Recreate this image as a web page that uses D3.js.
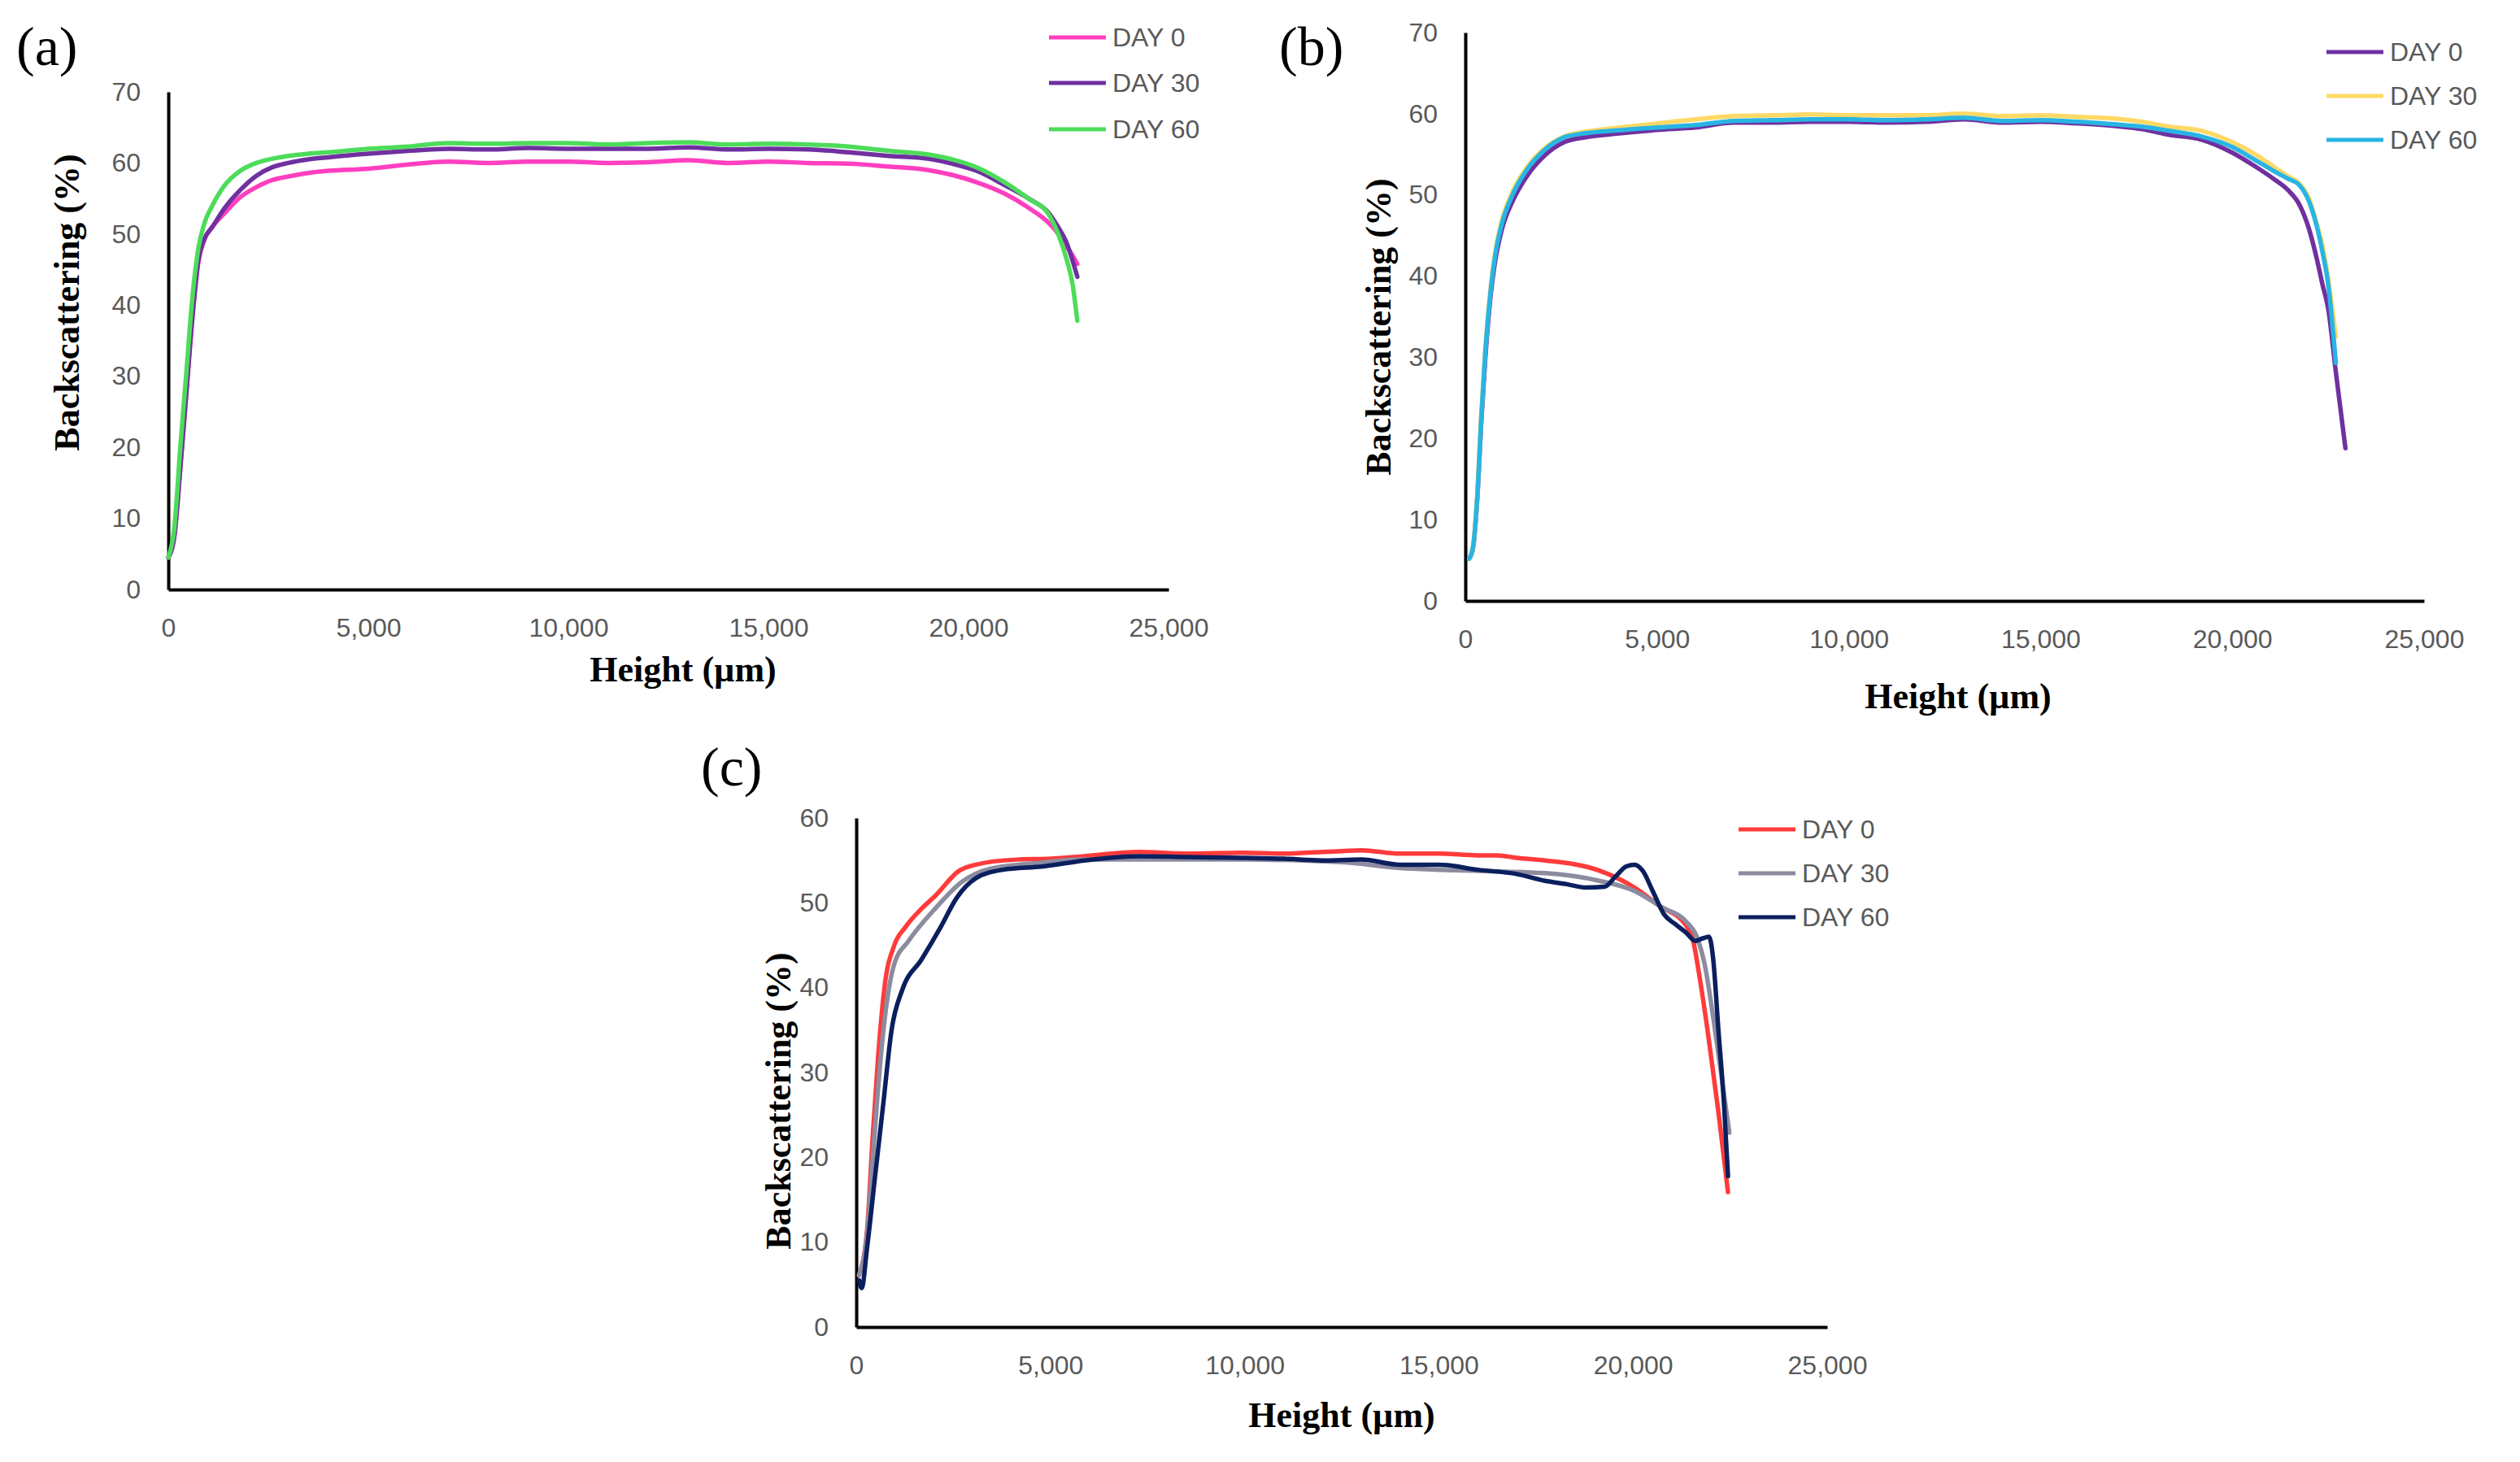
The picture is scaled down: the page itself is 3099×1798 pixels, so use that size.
<!DOCTYPE html>
<html>
<head>
<meta charset="utf-8">
<script src="https://cdn.jsdelivr.net/npm/d3@7"></script>
<style>
  body { margin: 0; background: #ffffff; }
  .tick text { font-family: "Liberation Sans", Arial, sans-serif; font-size: 32px; fill: #595959; }
  .legende text { font-family: "Liberation Sans", Arial, sans-serif; font-size: 32px; fill: #595959; }
  .titre { font-family: "Liberation Serif", "DejaVu Serif", serif; font-weight: bold; font-size: 44px; fill: #000; }
  .lettre { font-family: "Liberation Serif", "DejaVu Serif", serif; font-size: 68px; fill: #000; }
</style>
</head>
<body>
<svg id="figure" width="3099" height="1798"></svg>
<script>
////////////////////////////////////////
// Données //
////////////////////////////////////////

const ticksX = [0, 5000, 10000, 15000, 20000, 25000];
const ticksY70 = [0, 10, 20, 30, 40, 50, 60, 70];
const ticksY60 = [0, 10, 20, 30, 40, 50, 60];
const legendeJours = ["DAY 0", "DAY 30", "DAY 60"];

// panneau (a)
const hauteurA = [0, 150, 300, 450, 600, 750, 900, 1100, 1400, 1800, 2200, 2600, 3000, 3500, 4000,
  5000, 6000, 7000, 8000, 9000, 10000, 11000, 12000, 13000, 14000, 15000, 16000, 17000, 18000,
  19000, 19600, 20200, 20900, 21500, 22000, 22250, 22450, 22600, 22720];
const aJour0 = [4.5, 7.5, 17, 27.5, 38, 46, 49.2, 51, 52.9, 55.2, 56.6, 57.6, 58.1, 58.6, 58.9,
  59.2, 59.8, 60.2, 60, 60.2, 60.2, 60, 60.1, 60.4, 60, 60.2, 60, 59.9, 59.5,
  59, 58.3, 57.3, 55.7, 53.7, 51.6, 50, 48.3, 47, 45.8];
const aJour30 = [4.5, 7.5, 17.2, 27.7, 38.3, 46.3, 49.3, 51, 53.6, 56.2, 58.2, 59.4, 60, 60.5, 60.8,
  61.3, 61.7, 62, 61.9, 62.1, 62, 62, 62, 62.2, 61.9, 62, 61.9, 61.5, 61,
  60.6, 59.9, 58.9, 56.9, 55, 53, 50.9, 48.8, 46.3, 44];
const aJour60 = [4.5, 8.7, 20, 30.5, 41, 48, 51.5, 54, 56.8, 58.9, 60, 60.6, 61, 61.3, 61.5,
  62, 62.3, 62.8, 62.7, 62.8, 62.8, 62.6, 62.8, 62.9, 62.6, 62.7, 62.6, 62.3, 61.7,
  61.2, 60.5, 59.4, 57.3, 55, 52.8, 49.9, 46.5, 43, 37.8];

// panneau (b)
const hauteurB = [100, 200, 310, 420, 520, 660, 770, 950, 1230, 1590, 2080, 2580, 3140, 3850,
  5000, 6000, 7000, 8000, 9000, 10000, 11000, 12000, 13000, 14000, 15000, 16000,
  16900, 17650, 18350, 19200, 20000, 20600, 21100, 21450, 21750,
  22000, 22200, 22350, 22500, 22700, 22950];
const bJour0 = [5.2, 6.5, 12.5, 22.3, 29.8, 37.6, 41.6, 45.7, 49.2, 52.2, 54.9, 56.5, 57.1, 57.5,
  58, 58.3, 58.9, 58.9, 59, 59, 58.9, 59, 59.3, 58.9, 59, 58.8,
  58.5, 58.1, 57.4, 56.8, 55.2, 53.5, 51.9, 50.6, 48.8,
  45.8, 42.2, 39, 36, 28.2, 18.8];
const bJour30 = [5.2, 6.6, 13, 23.3, 31, 38.6, 42.7, 46.8, 50.4, 53.3, 55.8, 57.2, 57.8, 58.2,
  58.8, 59.3, 59.7, 59.8, 59.9, 59.8, 59.8, 59.8, 60, 59.7, 59.8, 59.6,
  59.4, 59, 58.4, 57.9, 56.5, 55, 53.4, 52.3, 51.4,
  49.6, 46.5, 43.8, 39.7, 32.5, null];
const bJour60 = [5.2, 6.6, 12.7, 22.9, 30.6, 38.2, 42.3, 46.4, 50, 53, 55.6, 57.1, 57.6, 57.9,
  58.3, 58.6, 59.1, 59.2, 59.3, 59.3, 59.2, 59.3, 59.5, 59.1, 59.2, 59,
  58.7, 58.4, 57.9, 57.2, 55.9, 54.3, 52.9, 52, 51.2,
  49.2, 46.2, 43, 39, 29.3, null];

// panneau (c) : chaque courbe a ses propres hauteurs
const hauteurC0 = [70, 280, 420, 560, 734, 979, 1259, 1678, 2028, 2657, 3077, 4126, 5000, 5874, 7273,
  8500, 10000, 11000, 12000, 12500, 13000, 14000, 15000, 16000, 16500, 17000, 17735, 19131,
  20038, 20666, 21357, 21545, 21713, 21922, 22195, 22446];
const cJour0 = [6.1, 11.5, 22.2, 31.7, 40.3, 45, 47.1, 49.3, 50.8, 53.8, 54.5, 55.1, 55.2, 55.5, 56,
  55.8, 55.9, 55.8, 56, 56.1, 56.2, 55.8, 55.8, 55.6, 55.6, 55.3, 55, 53.8,
  51.8, 49.7, 47.4, 45.6, 41.3, 34.9, 25.5, 15.9];
const hauteurC30 = [70, 280, 420, 560, 700, 979, 1329, 2028, 2727, 3427, 4476, 5874, 7500, 10000,
  12500, 14000, 15000, 16500, 17735, 19131, 20038, 20736, 21364, 21643, 21852, 22062, 22271, 22481];
const cJour30 = [6.1, 11, 19.5, 28, 35, 42.8, 45.4, 49.3, 52.5, 54, 54.6, 55.1, 55.1, 55.1,
  54.8, 54.1, 53.9, 53.7, 53.5, 52.6, 51.4, 49.5, 47.8, 46, 42.6, 36.6, 29.8, 22.9];
const hauteurC60 = [70, 140, 280, 490, 700, 909, 1189, 1678, 2168, 2587, 3077, 3776, 4825, 5874,
  7300, 8500, 10000, 11000, 12000, 13000, 14000, 15000, 16000, 17000, 17735, 18293, 18781,
  19270, 19549, 19828, 20038, 20247, 20526, 20806, 21085, 21364, 21608, 21783, 21957, 22062,
  22201, 22341, 22446];
const cJour60 = [5.5, 4.6, 9.4, 18, 26.5, 35, 39.8, 43.3, 47.1, 50.6, 52.9, 53.9, 54.3, 55,
  55.5, 55.4, 55.3, 55.2, 55, 55.1, 54.5, 54.5, 53.9, 53.4, 52.6, 52.2, 51.8,
  51.9, 53.1, 54.3, 54.5, 53.8, 51.2, 48.6, 47.5, 46.5, 45.5, 45.8, 46, 43.5,
  34.9, 26.4, 17.8];


////////////////////////////////////////////////////
// Fonction qui associe les hauteurs et les valeurs //
////////////////////////////////////////////////////
function points(xs, ys) {
  return xs.map((x, i) => ({ x: x, y: ys[i] }));
}

// description des trois panneaux (positions en pixels)
const panneaux = [
  {
    lettre: "(a)", lx: 20, ly: 80,
    gauche: 207, droite: 1437, haut: 113, bas: 725, ymax: 70, ticksY: ticksY70,
    titreY: [82, 372], titreX: [840, 838],
    legX: 1290, legY: [46, 102, 159],
    series: [
      { pts: points(hauteurA, aJour0), couleur: "#ff3fc0" },
      { pts: points(hauteurA, aJour30), couleur: "#7030a0" },
      { pts: points(hauteurA, aJour60), couleur: "#4ddc5a" }
    ]
  },
  {
    lettre: "(b)", lx: 1573, ly: 80,
    gauche: 1802, droite: 2981, haut: 40, bas: 739, ymax: 70, ticksY: ticksY70,
    titreY: [1695, 402], titreX: [2408, 871],
    legX: 2861, legY: [64, 118, 172],
    series: [
      { pts: points(hauteurB, bJour0), couleur: "#7030a0" },
      { pts: points(hauteurB, bJour30), couleur: "#ffd966" },
      { pts: points(hauteurB, bJour60), couleur: "#29b5e3" }
    ]
  },
  {
    lettre: "(c)", lx: 862, ly: 966,
    gauche: 1053, droite: 2247, haut: 1006, bas: 1632, ymax: 60, ticksY: ticksY60,
    titreY: [957, 1354], titreX: [1650, 1755],
    legX: 2138, legY: [1020, 1074, 1128],
    series: [
      { pts: points(hauteurC0, cJour0), couleur: "#ff3b3b" },
      { pts: points(hauteurC30, cJour30), couleur: "#8c8ca0" },
      { pts: points(hauteurC60, cJour60), couleur: "#0b1f5e" }
    ]
  }
];

const svg = d3.select("#figure");
svg.append("rect").attr("width", 3099).attr("height", 1798).attr("fill", "#ffffff");

/////////////////////////////////
// Dessin de chacun des panneaux //
/////////////////////////////////
panneaux.forEach(p => {
  const x = d3.scaleLinear().domain([0, 25000]).range([p.gauche, p.droite]);
  const y = d3.scaleLinear().domain([0, p.ymax]).range([p.bas, p.haut]);

  // axe des ordonnées
  const axeY = svg.append("g")
    .attr("transform", "translate(" + p.gauche + ",0)")
    .call(d3.axisLeft(y).tickValues(p.ticksY).tickSize(0).tickSizeOuter(0).tickPadding(34));
  axeY.select(".domain").attr("stroke", "#000").attr("stroke-width", 4);

  // axe des abscisses
  const axeX = svg.append("g")
    .attr("transform", "translate(0," + p.bas + ")")
    .call(d3.axisBottom(x).tickValues(ticksX).tickFormat(d3.format(",")).tickSize(0).tickSizeOuter(0).tickPadding(35));
  axeX.select(".domain").attr("stroke", "#000").attr("stroke-width", 4);

  // courbes
  const ligne = d3.line()
    .defined(d => d.y !== null)
    .x(d => x(d.x))
    .y(d => y(d.y))
    .curve(d3.curveMonotoneX);

  p.series.forEach(s => {
    svg.append("path")
      .datum(s.pts)
      .attr("d", ligne)
      .attr("fill", "none")
      .attr("stroke", s.couleur)
      .attr("stroke-width", 5.5)
      .attr("stroke-linejoin", "round")
      .attr("stroke-linecap", "round");
  });

  // titres des axes
  svg.append("text").attr("class", "titre")
    .attr("transform", "translate(" + p.titreY[0] + "," + p.titreY[1] + ") rotate(-90)")
    .attr("text-anchor", "middle").attr("dominant-baseline", "central")
    .text("Backscattering (%)");
  svg.append("text").attr("class", "titre")
    .attr("x", p.titreX[0]).attr("y", p.titreX[1])
    .attr("text-anchor", "middle")
    .text("Height (µm)");

  // lettre du panneau
  svg.append("text").attr("class", "lettre")
    .attr("x", p.lx).attr("y", p.ly)
    .text(p.lettre);

  // légende
  const leg = svg.append("g").attr("class", "legende");
  legendeJours.forEach((nom, i) => {
    leg.append("line")
      .attr("x1", p.legX).attr("x2", p.legX + 70)
      .attr("y1", p.legY[i]).attr("y2", p.legY[i])
      .attr("stroke", p.series[i].couleur).attr("stroke-width", 5);
    leg.append("text")
      .attr("x", p.legX + 78).attr("y", p.legY[i])
      .attr("dominant-baseline", "central")
      .text(nom);
  });
});
</script>
</body>
</html>
